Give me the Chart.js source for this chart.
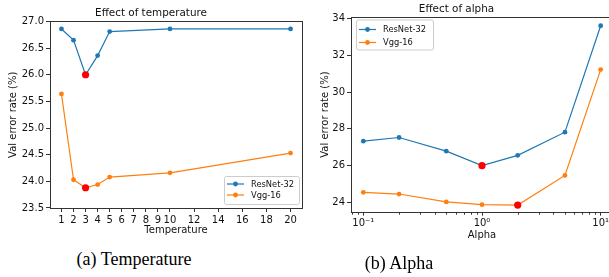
<!DOCTYPE html>
<html>
<head>
<meta charset="utf-8">
<script src="https://cdn.jsdelivr.net/npm/chart.js@4.4.1/dist/chart.umd.min.js"></script>
<style>
  html, body { margin: 0; padding: 0; background: #fff; overflow: hidden; width: 609px; height: 277px; }
  canvas { position: absolute; top: 0; }
  .caption { position: absolute; font-family: 'Liberation Serif', 'Times New Roman', serif; font-size: 18px; color: #000; transform: translate(-50%, -50%); white-space: nowrap; }
</style>
</head>
<body>
<canvas id="tempChart" width="310" height="245" style="left:0px"></canvas>
<canvas id="alphaChart" width="320" height="245" style="left:300px"></canvas>
<div class="caption" style="left:134px; top:259px">(a) Temperature</div>
<div class="caption" style="left:399px; top:263px">(b) Alpha</div>

<script>
// Dades del gràfic (a): efecte de la temperatura
const temps = [1, 2, 3, 4, 5, 10, 20];
const resnetTemp = [26.86, 26.65, 26.0, 26.36, 26.81, 26.86, 26.86];
const vggTemp = [25.64, 24.03, 23.88, 23.94, 24.08, 24.16, 24.53];
const tempXTicks = [1, 2, 3, 4, 5, 6, 7, 8, 9, 10, 12, 14, 16, 18, 20];
const tempYTicks = [23.5, 24.0, 24.5, 25.0, 25.5, 26.0, 26.5, 27.0];

// Dades del gràfic (b): efecte d'alpha
const alphas = [0.1, 0.2, 0.5, 1, 2, 5, 10];
const resnetAlpha = [27.33, 27.53, 26.79, 26.0, 26.56, 27.82, 33.6];
const vggAlpha = [24.55, 24.46, 24.03, 23.88, 23.86, 25.47, 31.22];
const alphaXTicks = [0.1, 1, 10];
const alphaXLabels = ['10\u207B\u00B9', '10\u2070', '10\u00B9'];
const alphaYTicks = [24, 26, 28, 30, 32, 34];

const seriesNames = ['ResNet-32', 'Vgg-16'];
const BLUE = '#1f77b4';
const ORANGE = '#ff7f0e';
const FONT = 'DejaVu Sans';
const AXIS = '#333';

Chart.defaults.font.family = FONT;
Chart.defaults.color = '#111';

// El millor punt (error mínim) es marca en vermell
const makeDataset = (label, xs, ys, color) => {
    const best = ys.indexOf(Math.min(...ys));
    return {
        label: label,
        data: xs.map((x, i) => ({ x: x, y: ys[i] })),
        borderColor: color,
        backgroundColor: color,
        borderWidth: 1.2,
        tension: 0,
        pointRadius: (ctx) => ctx.dataIndex === best ? 3.6 : 2.4,
        pointBackgroundColor: (ctx) => ctx.dataIndex === best ? '#ff0000' : color,
        pointBorderColor: (ctx) => ctx.dataIndex === best ? '#ff0000' : color,
        pointBorderWidth: 0
    };
};

// Marc (spines) al voltant de l'àrea del gràfic, i ticks menors per l'eix log
const framePlugin = {
    id: 'frame',
    afterDraw(chart) {
        const { ctx, chartArea: a } = chart;
        ctx.save();
        ctx.strokeStyle = AXIS;
        ctx.lineWidth = 1;
        const l = Math.round(a.left) + 0.5, t = Math.round(a.top) + 0.5;
        const r = Math.round(a.right) + 0.5, b = Math.round(a.bottom) + 0.5;
        ctx.strokeRect(l, t, r - l, b - t);
        const xs = chart.scales.x;
        if (xs.type === 'logarithmic') {
            for (let e = -2; e <= 1; e++) {
                for (let m = 2; m <= 9; m++) {
                    const v = m * Math.pow(10, e);
                    if (v < xs.min || v > xs.max) continue;
                    const px = Math.round(xs.getPixelForValue(v)) + 0.5;
                    ctx.beginPath();
                    ctx.moveTo(px, b);
                    ctx.lineTo(px, b + 2.2);
                    ctx.stroke();
                }
            }
        }
        ctx.restore();
    }
};

// Llegenda a l'estil matplotlib, dins de l'àrea del gràfic
const boxLegend = {
    id: 'boxLegend',
    afterDatasetsDraw(chart, args, opts) {
        const { ctx, chartArea: a } = chart;
        const w = opts.width, h = opts.height;
        const x0 = opts.corner === 'br' ? a.right - opts.dx - w : a.left + opts.dx;
        const y0 = opts.corner === 'br' ? a.bottom - opts.dy - h : a.top + opts.dy;
        ctx.save();
        ctx.fillStyle = 'rgba(255,255,255,0.85)';
        ctx.strokeStyle = '#cccccc';
        ctx.lineWidth = 1;
        ctx.beginPath();
        ctx.roundRect(x0 + 0.5, y0 + 0.5, w, h, 2);
        ctx.fill();
        ctx.stroke();
        ctx.font = opts.fontSize + 'px ' + FONT;
        ctx.textBaseline = 'middle';
        chart.data.datasets.forEach((ds, i) => {
            const y = y0 + opts.firstRow + i * opts.rowGap;
            ctx.strokeStyle = ds.borderColor;
            ctx.lineWidth = 1.2;
            ctx.beginPath();
            ctx.moveTo(x0 + 3, y);
            ctx.lineTo(x0 + 20, y);
            ctx.stroke();
            ctx.fillStyle = ds.borderColor;
            ctx.beginPath();
            ctx.arc(x0 + 11.5, y, 2.4, 0, Math.PI * 2);
            ctx.fill();
            ctx.fillStyle = '#111';
            ctx.fillText(ds.label, x0 + 27, y + 0.5);
        });
        ctx.restore();
    }
};

const axisCommon = (ticksArr) => ({
    afterBuildTicks: (scale) => { scale.ticks = ticksArr.map(v => ({ value: v })); },
    grid: { drawOnChartArea: false, drawTicks: true, tickLength: 4, tickColor: AXIS, color: AXIS },
    border: { display: false }
});

const tempChart = new Chart(document.getElementById('tempChart'), {
    type: 'line',
    data: {
        datasets: [
            makeDataset(seriesNames[0], temps, resnetTemp, BLUE),
            makeDataset(seriesNames[1], temps, vggTemp, ORANGE)
        ]
    },
    options: {
        responsive: false,
        animation: false,
        layout: { padding: { left: 0, right: 8, top: 0, bottom: 0 } },
        scales: {
            x: {
                type: 'linear', min: 0.05, max: 20.95,
                ...axisCommon(tempXTicks),
                afterFit: (s) => { s.height = 37; },
                ticks: { autoSkip: false, maxRotation: 0, padding: 2, font: { size: 10 }, callback: (v) => String(v) },
                title: { display: true, text: 'Temperature', font: { size: 10 }, padding: { top: 0, bottom: 9 } }
            },
            y: {
                min: 23.5, max: 27.0,
                ...axisCommon(tempYTicks),
                afterFit: (s) => { s.width = 50; },
                ticks: { padding: 2, font: { size: 10 }, callback: (v) => v.toFixed(1) },
                title: { display: true, text: 'Val error rate (%)', font: { size: 10 }, padding: { top: 7, bottom: 0 } }
            }
        },
        plugins: {
            legend: { display: false },
            tooltip: { enabled: false },
            title: { display: true, text: 'Effect of temperature', font: { size: 10.4, weight: 'normal' }, color: '#111', padding: { top: 7, bottom: 2 } },
            boxLegend: { corner: 'br', dx: 3, dy: 4, width: 75, height: 28, firstRow: 8, rowGap: 11, fontSize: 8.3 }
        }
    },
    plugins: [framePlugin, boxLegend]
});

const alphaChart = new Chart(document.getElementById('alphaChart'), {
    type: 'line',
    data: {
        datasets: [
            makeDataset(seriesNames[0], alphas, resnetAlpha, BLUE),
            makeDataset(seriesNames[1], alphas, vggAlpha, ORANGE)
        ]
    },
    options: {
        responsive: false,
        animation: false,
        layout: { padding: { left: 0, right: 7, top: 0, bottom: 0 } },
        scales: {
            x: {
                type: 'logarithmic', min: Math.pow(10, -1.104), max: Math.pow(10, 1.104),
                ...axisCommon(alphaXTicks),
                afterFit: (s) => { s.height = 33.3; },
                ticks: { autoSkip: false, maxRotation: 0, padding: 2, font: { size: 10 }, callback: (v) => alphaXLabels[alphaXTicks.indexOf(v)] },
                title: { display: true, text: 'Alpha', font: { size: 10 }, padding: { top: 0, bottom: 4 } }
            },
            y: {
                min: 23.5, max: 34.05,
                ...axisCommon(alphaYTicks),
                afterFit: (s) => { s.width = 51; },
                ticks: { padding: 2, font: { size: 10 }, callback: (v) => String(v) },
                title: { display: true, text: 'Val error rate (%)', font: { size: 10 }, padding: { top: 19, bottom: 0 } }
            }
        },
        plugins: {
            legend: { display: false },
            tooltip: { enabled: false },
            title: { display: true, text: 'Effect of alpha', font: { size: 10.4, weight: 'normal' }, color: '#111', padding: { top: 3, bottom: 2 } },
            boxLegend: { corner: 'tl', dx: 5, dy: 2, width: 77, height: 30, firstRow: 10, rowGap: 13, fontSize: 8.3 }
        }
    },
    plugins: [framePlugin, boxLegend]
});
</script>
</body>
</html>
